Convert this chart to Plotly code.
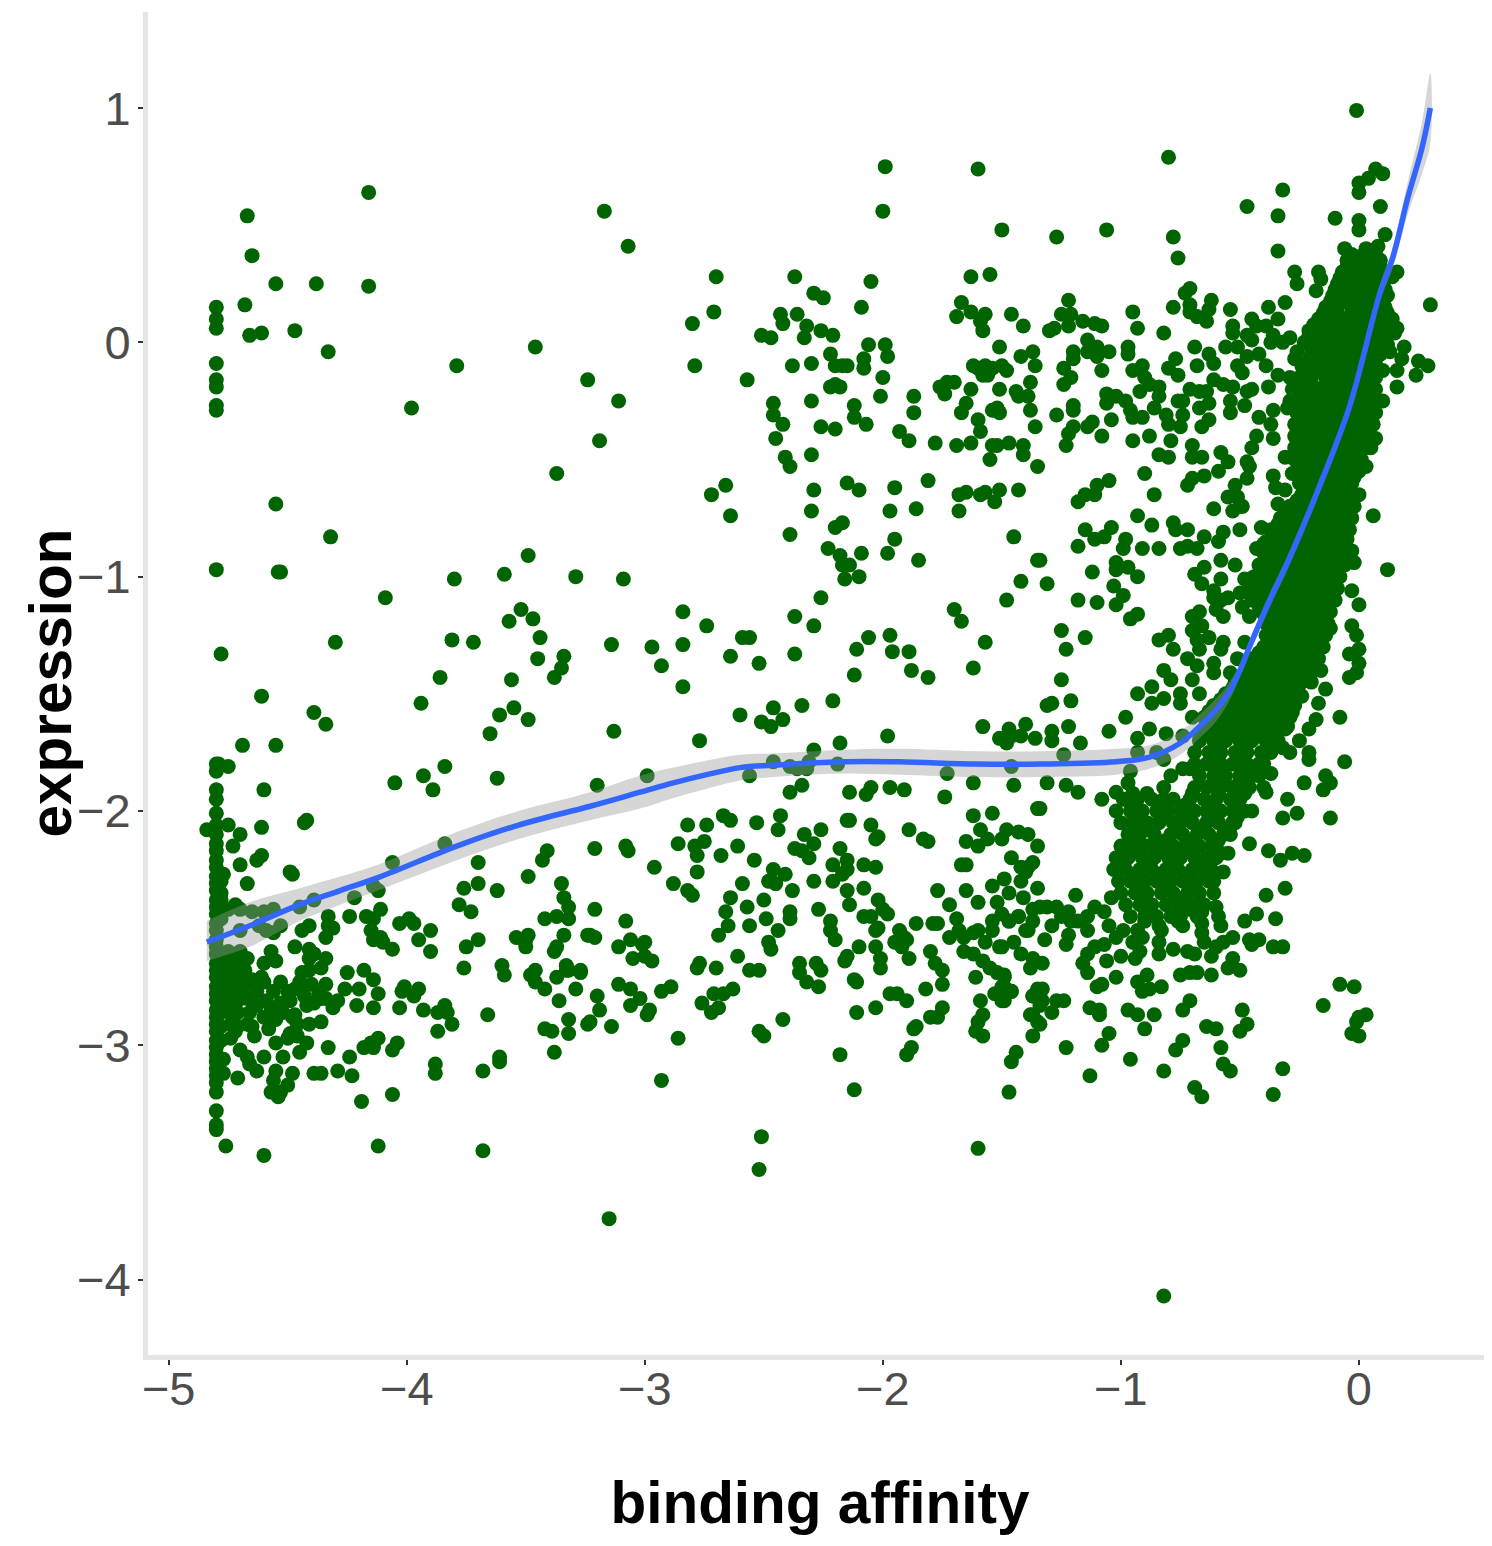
import plotly.graph_objects as go

x_ticks = [-5, -4, -3, -2, -1, 0]
y_ticks = [1, 0, -1, -2, -3, -4]

# floor column: binding affinity clipped at about -4.8
floor_x = -4.80
floor_y = [0.15, 0.10, 0.06, -0.09, -0.16, -0.19, -0.27, -0.29, -0.97, -1.80, -1.83, -1.91, -1.95, -2.01, -2.06,
           -2.10, -2.14, -2.17, -2.21, -2.24, -2.28, -2.31, -2.34, -2.38, -2.41, -2.44, -2.48, -2.51, -2.55, -2.58,
           -2.61, -2.65, -2.68, -2.71, -2.75, -2.78, -2.81, -2.85, -2.88, -2.91, -2.94, -2.98, -3.01, -3.04, -3.07,
           -3.10, -3.13, -3.16, -3.20, -3.28, -3.34, -3.36]

left_blob = [(-4.78,-2.30),(-4.78,-2.38),(-4.78,-2.46),(-4.78,-2.62),(-4.78,-2.68),(-4.78,-2.74),(-4.78,-2.80),(-4.78,-2.86),
 (-4.78,-2.92),(-4.78,-2.98),(-4.77,-3.06),(-4.77,-3.12),(-4.75,-2.60),(-4.75,-2.69),(-4.74,-2.74),(-4.74,-2.80),
 (-4.74,-2.85),(-4.74,-2.91),(-4.74,-2.97),(-4.71,-2.63),(-4.71,-2.70),(-4.71,-2.75),(-4.71,-2.81),(-4.71,-2.86),
 (-4.71,-2.92),(-4.68,-2.68),(-4.68,-2.74),(-4.67,-2.80),(-4.66,-2.86),(-4.65,-2.92),(-4.64,-2.96),(-4.60,-2.73),
 (-4.57,-2.84),(-4.58,-2.93),(-4.52,-2.86),(-4.47,-2.76),(-4.43,-2.79),(-4.40,-2.74),(-4.39,-2.82),(-4.34,-2.74)]

far_left = [(-4.67,0.54),(-4.65,0.37),(-4.55,0.25),(-4.38,0.25),(-4.16,0.64),(-4.16,0.24),(-4.68,0.16),(-4.66,0.03),
 (-4.61,0.04),(-4.47,0.05),(-4.33,-0.04),(-3.98,-0.28),(-3.79,-0.10),(-3.46,-0.02),(-3.24,-0.16),(-3.11,-0.25),
 (-3.19,-0.42),(-3.17,0.56),(-3.07,0.41),(-3.37,-0.56),(-4.55,-0.69),(-4.32,-0.83),(-4.54,-0.98),(-4.53,-0.98),
 (-4.09,-1.09),(-3.80,-1.01),(-3.59,-0.99),(-3.49,-0.91),(-3.29,-1.00),(-3.09,-1.01),(-3.52,-1.14),(-3.57,-1.19),
 (-3.47,-1.18),(-3.44,-1.26),(-3.81,-1.27),(-3.72,-1.28),(-4.30,-1.28),(-3.14,-1.29),(-4.78,-1.33),(-3.45,-1.35),
 (-3.34,-1.34),(-3.35,-1.39),(-3.38,-1.43),(-3.86,-1.43),(-3.56,-1.44),(-4.61,-1.51),(-3.94,-1.54),(-4.39,-1.58),
 (-4.34,-1.63),(-3.55,-1.56),(-3.61,-1.59),(-3.49,-1.61),(-3.65,-1.67),(-3.13,-1.66),(-4.69,-1.72),(-4.55,-1.72),
 (-3.84,-1.81),(-3.93,-1.85),(-3.89,-1.91),(-4.05,-1.88),(-3.62,-1.86),(-3.20,-1.89),(-4.60,-1.91),(-4.42,-2.04),
 (-4.43,-2.05),(-4.75,-1.81),(-4.79,-1.80),(-4.75,-2.06),(-4.61,-2.07),(-4.84,-2.08),(-4.70,-2.10),(-4.73,-2.15),
 (-4.61,-2.19),(-4.63,-2.21),(-4.70,-2.23),(-4.67,-2.31),(-4.49,-2.26),(-4.48,-2.27),(-4.77,-2.27),(-4.78,-2.35),
 (-4.72,-2.40),(-3.84,-2.14),(-4.06,-2.22),(-4.14,-2.32),(-4.12,-2.34),(-4.22,-2.37),(-4.39,-2.38),(-4.45,-2.41)]

left_cloud = [(-4.56,-2.42),(-4.60,-2.43),(-4.65,-2.43),(-4.70,-2.42),(-4.75,-2.42),(-4.70,-2.51),(-4.62,-2.49),
 (-4.53,-2.49),(-4.56,-2.52),(-4.59,-2.51),(-4.41,-2.49),(-4.44,-2.51),(-4.33,-2.45),(-4.33,-2.49),(-4.31,-2.50),
 (-4.34,-2.54),(-4.24,-2.45),(-4.17,-2.45),(-4.11,-2.42),(-4.14,-2.46),(-4.15,-2.51),(-4.14,-2.55),(-4.11,-2.54),
 (-4.10,-2.56),(-4.06,-2.59),(-4.03,-2.48),(-3.99,-2.46),(-3.97,-2.48),(-3.90,-2.51),(-3.95,-2.55),(-3.90,-2.60),
 (-3.70,-2.22),(-3.76,-2.33),(-3.70,-2.31),(-3.62,-2.34),(-3.78,-2.40),(-3.73,-2.43),(-3.49,-2.28),(-3.41,-2.17),
 (-3.43,-2.21),(-3.35,-2.31),(-3.34,-2.37),(-3.32,-2.41),(-3.37,-2.45),(-3.70,-2.55),(-3.75,-2.58),(-3.76,-2.67),
 (-3.54,-2.54),(-3.49,-2.53),(-3.50,-2.58),(-3.50,-2.55),(-3.34,-2.53),(-3.38,-2.60),(-3.24,-2.53),(-3.60,-2.66),
 (-3.59,-2.70),(-3.46,-2.68),(-3.48,-2.70),(-3.46,-2.73),(-3.42,-2.76),(-3.37,-2.71),(-3.32,-2.68),(-3.27,-2.69),
 (-3.36,-2.81),(-3.66,-2.87),(-3.32,-2.89),(-3.42,-2.93),(-3.39,-2.94),(-3.32,-2.95),(-3.24,-2.91),(-3.38,-3.03),
 (-3.61,-3.05),(-3.61,-3.07),(-3.68,-3.11),(-3.88,-3.08),(-3.88,-3.12),(-3.68,-3.45),(-4.12,-3.43),(-4.19,-3.24),
 (-4.06,-3.21),(-4.76,-3.43),(-4.60,-3.47),(-4.25,-2.69),(-4.18,-2.68),(-4.14,-2.72),(-4.26,-2.76),(-4.20,-2.76),
 (-4.12,-2.78),(-4.21,-2.83),(-4.14,-2.84),(-4.01,-2.75),(-4.02,-2.77),(-3.97,-2.79),(-3.95,-2.76),(-4.03,-2.84),
 (-3.93,-2.85),(-3.84,-2.83),(-3.87,-2.86),(-3.83,-2.86),(-3.81,-2.91),(-3.87,-2.94),(-4.47,-2.58),(-4.41,-2.59),
 (-4.39,-2.61),(-4.41,-2.63),(-4.34,-2.63),(-4.36,-2.67),(-4.41,-2.68),(-4.44,-2.69),(-4.57,-2.60),(-4.55,-2.64),
 (-4.60,-2.65),(-4.61,-2.71),(-4.67,-2.63),(-4.70,-2.60),(-4.65,-2.72),(-4.53,-2.73),(-4.45,-2.73),(-4.44,-2.76),
 (-4.50,-2.77),(-4.56,-2.77),(-4.63,-2.77),(-4.70,-2.78),(-4.74,-2.77),(-4.63,-2.83),(-4.59,-2.81),(-4.53,-2.82),
 (-4.49,-2.81),(-4.42,-2.83),(-4.36,-2.80),(-4.37,-2.78),(-4.34,-2.80),(-4.31,-2.84),(-4.29,-2.81),(-4.48,-2.88),
 (-4.46,-2.91),(-4.55,-2.89),(-4.60,-2.88),(-4.67,-2.91),(-4.72,-2.94),(-4.73,-2.88),(-4.76,-2.82),(-4.76,-2.72),
 (-4.76,-2.65),(-4.73,-2.67),(-4.73,-2.72),(-4.69,-2.76),(-4.41,-2.91),(-4.36,-2.90),(-4.47,-2.87),(-4.49,-2.95),
 (-4.50,-2.97),(-4.46,-2.96),(-4.55,-2.99),(-4.42,-2.99),(-4.45,-3.03),(-4.33,-3.01),(-4.52,-3.05),(-4.60,-3.05),
 (-4.70,-3.02),(-4.67,-3.05),(-4.66,-3.08),(-4.63,-3.11),(-4.55,-3.11),(-4.56,-3.15),(-4.48,-3.12),(-4.71,-3.14),
 (-4.50,-3.17),(-4.57,-3.20),(-4.54,-3.22),(-4.53,-3.20),(-4.39,-3.12),(-4.36,-3.12),(-4.29,-3.11),(-4.23,-3.13),
 (-4.24,-3.05),(-4.18,-3.01),(-4.15,-2.99),(-4.12,-2.97),(-4.14,-3.01),(-4.06,-3.02),(-4.04,-2.99),
 (-3.21,-2.16),(-3.08,-2.15),(-3.07,-2.17),(-3.21,-2.42),(-3.08,-2.47),(-3.23,-2.53),(-3.21,-2.54),(-3.06,-2.55),
 (-3.01,-2.57),(-3.11,-2.58),(-3.05,-2.63),(-3.27,-2.68),(-3.33,-2.68),(-3.29,-2.76),(-3.20,-2.79),(-3.11,-2.74),
 (-3.06,-2.76),(-3.19,-2.85),(-3.06,-2.83),(-3.14,-2.92),(-3.23,-2.90),(-3.15,-3.74),(-3.32,-2.46),(-3.42,-2.46),
 (-3.51,-2.55),(-3.37,-2.58),(-3.33,-2.66)]

mid_upper = [(-1.99,0.75),(-1.60,0.74),(-2.00,0.56),(-1.50,0.48),(-2.70,0.28),(-2.37,0.28),(-1.63,0.28),(-1.55,0.29),
 (-2.05,0.26),(-2.29,0.21),(-2.25,0.19),(-2.09,0.15),(-2.71,0.13),(-2.80,0.08),(-2.43,0.12),(-2.36,0.12),(-2.42,0.08),
 (-2.32,0.07),(-2.26,0.05),(-2.21,0.03),(-2.33,0.02),(-2.51,0.03),(-2.47,0.02),(-1.67,0.17),(-1.63,0.13),(-1.69,0.11),
 (-1.57,0.12),(-1.59,0.09),(-1.58,0.05),(-1.46,0.12),(-1.41,0.07),(-1.51,-0.02),(-2.06,-0.01),(-1.99,-0.01),(-1.98,-0.06),
 (-2.08,-0.07),(-2.08,-0.11),(-2.22,-0.05),(-2.20,-0.10),(-2.17,-0.10),(-2.15,-0.10),(-2.30,-0.09),(-2.38,-0.10),
 (-2.79,-0.10),(-2.57,-0.16),(-2.22,-0.19),(-2.20,-0.18),(-2.18,-0.19),(-2.00,-0.15),(-2.01,-0.23),(-1.87,-0.23),
 (-1.87,-0.30),(-1.42,-0.06),(-1.37,-0.04),(-1.62,-0.10),(-1.57,-0.10),(-1.60,-0.11),(-1.58,-0.14),(-1.56,-0.14),
 (-1.54,-0.11),(-1.50,-0.10),(-1.48,-0.12),(-1.36,-0.10),(-1.73,-0.17),(-1.76,-0.19),(-1.70,-0.17),(-1.74,-0.22),
 (-1.63,-0.20),(-1.51,-0.20),(-1.38,-0.17),(-1.44,-0.21),(-1.43,-0.23),(-1.39,-0.23),(-1.65,-0.26),(-1.67,-0.30),
 (-1.54,-0.29),(-1.52,-0.28),(-1.51,-0.30),(-1.38,-0.29),(-1.60,-0.33),(-1.59,-0.38),(-1.36,-0.36),(-2.46,-0.26),
 (-2.46,-0.31),(-2.42,-0.35),(-2.45,-0.41),(-2.30,-0.25),(-2.12,-0.27),(-2.12,-0.32),(-2.07,-0.35),(-2.26,-0.36),
 (-2.20,-0.37),(-1.93,-0.38),(-1.89,-0.42),(-1.78,-0.43),(-1.69,-0.44),(-1.63,-0.43),(-1.54,-0.44),(-1.52,-0.44),
 (-1.47,-0.43),(-1.41,-0.44),(-1.41,-0.48),(-1.55,-0.50),(-1.35,-0.53),(-2.41,-0.49),(-2.39,-0.53),(-2.30,-0.48),
 (-2.66,-0.61),(-2.72,-0.65),(-2.64,-0.74),(-2.29,-0.63),(-2.30,-0.72),(-2.15,-0.60),(-2.10,-0.63),(-1.95,-0.62),
 (-1.81,-0.59),(-1.97,-0.72),(-1.86,-0.71),(-1.68,-0.72),(-1.68,-0.65),(-1.65,-0.64),(-1.59,-0.65),(-1.57,-0.64),
 (-1.53,-0.68),(-1.51,-0.63),(-1.43,-0.63),(-2.17,-0.77),(-2.20,-0.79),(-2.39,-0.82),(-2.23,-0.88),(-2.18,-0.91),
 (-2.17,-0.95),(-2.14,-0.95),(-2.16,-1.01),(-2.10,-1.00),(-2.09,-0.90),(-1.98,-0.90),(-1.95,-0.84),(-1.85,-0.93),
 (-1.45,-0.83),(-1.35,-0.93),(-1.42,-1.02),(-1.48,-1.10),(-1.70,-1.14),(-1.67,-1.19),(-2.26,-1.09),(-2.37,-1.17),
 (-2.29,-1.21),(-2.84,-1.15),(-2.74,-1.21),(-2.59,-1.26),(-2.56,-1.26),(-2.84,-1.29),(-2.97,-1.30),(-2.93,-1.38),
 (-2.64,-1.34),(-2.52,-1.37),(-2.37,-1.33),(-2.84,-1.47),(-2.06,-1.26),(-1.97,-1.25),(-2.11,-1.31),(-1.96,-1.32),
 (-1.89,-1.32),(-1.88,-1.40),(-1.81,-1.43),(-2.12,-1.42),(-1.57,-1.28),(-1.62,-1.39),(-2.21,-1.53),(-2.34,-1.55),
 (-2.46,-1.56),(-2.60,-1.59),(-2.51,-1.62),(-2.47,-1.64),(-2.42,-1.61),(-2.77,-1.70),(-2.18,-1.71),(-1.98,-1.68),
 (-2.29,-1.74),(-1.58,-1.64),(-1.47,-1.65),(-1.51,-1.69),(-1.48,-1.71),(-1.46,-1.68),(-1.42,-1.68),(-1.40,-1.63),
 (-1.36,-1.69),(-2.46,-1.79),(-2.39,-1.81),(-2.36,-1.82),(-2.32,-1.82),(-2.31,-1.79),(-2.19,-1.80),(-2.99,-1.85),
 (-2.56,-1.85),(-1.73,-1.84),(-1.46,-1.81),(-1.62,-1.88),(-1.45,-1.89),(-2.34,-1.89),(-2.39,-1.92),(-2.14,-1.92),
 (-2.05,-1.90),(-2.07,-1.93),(-1.97,-1.90),(-1.91,-1.91),(-1.74,-1.94)]

mid_lower = [(-1.62,-2.02),(-1.54,-2.01),(-1.35,-1.99),(-2.43,-2.02),(-2.44,-2.08),(-2.67,-2.02),(-2.64,-2.04),(-2.82,-2.06),
 (-2.74,-2.06),(-2.53,-2.05),(-2.15,-2.04),(-2.14,-2.04),(-2.05,-2.06),(-1.89,-2.08),(-2.26,-2.08),(-2.33,-2.10),
 (-2.02,-2.11),(-2.03,-2.12),(-1.83,-2.12),(-1.81,-2.13),(-2.29,-2.14),(-2.37,-2.16),(-2.34,-2.17),(-2.31,-2.20),
 (-2.18,-2.16),(-2.15,-2.21),(-2.21,-2.23),(-2.15,-2.25),(-2.17,-2.27),(-2.21,-2.30),(-2.08,-2.23),(-2.03,-2.24),
 (-2.08,-2.33),(-2.15,-2.34),(-2.14,-2.40),(-2.29,-2.30),(-2.38,-2.34),(-2.27,-2.42),(-2.86,-2.14),(-2.79,-2.15),
 (-2.75,-2.13),(-2.78,-2.19),(-2.68,-2.19),(-2.61,-2.15),(-2.54,-2.21),(-2.96,-2.24),(-2.78,-2.26),(-2.88,-2.31),
 (-2.82,-2.34),(-2.80,-2.36),(-2.46,-2.25),(-2.41,-2.27),(-2.48,-2.30),(-2.45,-2.31),(-2.59,-2.31),(-2.64,-2.37),
 (-2.66,-2.43),(-2.57,-2.41),(-2.50,-2.38),(-2.39,-2.43),(-2.49,-2.46),(-1.65,-2.13),(-1.60,-2.15),(-1.59,-2.08),
 (-1.56,-2.12),(-1.50,-2.12),(-1.48,-2.08),(-1.43,-2.09),(-1.39,-2.10),(-1.35,-2.15),(-1.67,-2.23),(-1.65,-2.23),
 (-1.46,-2.20),(-1.42,-2.24),(-1.39,-2.24),(-1.37,-2.22),(-1.40,-2.26),(-1.42,-2.30),(-1.49,-2.29),(-1.54,-2.32),
 (-1.47,-2.35),(-1.41,-2.37),(-1.52,-2.39),(-1.35,-2.33),(-1.65,-2.34),(-1.77,-2.34),(-1.72,-2.40),(-1.60,-2.39),
 (-2.02,-2.38),(-2.00,-2.42),(-1.98,-2.44),(-2.39,-2.46),(-2.65,-2.49),(-2.69,-2.53),(-2.56,-2.49),(-2.44,-2.51),
 (-2.48,-2.56),(-2.47,-2.59),(-2.61,-2.62),(-2.77,-2.65),(-2.78,-2.67),(-2.70,-2.67),(-2.56,-2.68),(-2.52,-2.68),
 (-2.35,-2.65),(-2.35,-2.69),(-2.32,-2.73),(-2.27,-2.75),(-2.28,-2.65),(-2.26,-2.68),(-2.22,-2.47),(-2.22,-2.51),
 (-2.20,-2.55),(-2.10,-2.58),(-2.15,-2.62),(-2.16,-2.64),(-2.03,-2.58),(-2.01,-2.63),(-2.01,-2.67),(-2.08,-2.45),
 (-2.05,-2.45),(-2.03,-2.51),(-2.02,-2.50),(-1.89,-2.63),(-1.93,-2.51),(-1.95,-2.56),(-1.91,-2.54),(-1.92,-2.58),
 (-1.90,-2.55),(-1.86,-2.48),(-1.79,-2.48),(-1.77,-2.48),(-1.69,-2.46),(-1.72,-2.54),(-1.68,-2.51),(-1.66,-2.54),
 (-1.62,-2.52),(-1.60,-2.51),(-1.57,-2.56),(-1.54,-2.51),(-1.54,-2.47),(-1.50,-2.44),(-1.47,-2.47),(-1.43,-2.45),
 (-1.37,-2.42),(-1.40,-2.51),(-1.51,-2.58),(-1.45,-2.56),(-1.42,-2.61),(-1.66,-2.60),(-1.62,-2.61),(-1.58,-2.64),
 (-1.55,-2.67),(-1.52,-2.69),(-1.49,-2.70),(-1.38,-2.67),(-1.37,-2.63),(-1.80,-2.60),(-1.78,-2.65),(-1.75,-2.68),
 (-1.75,-2.74),(-1.82,-2.76),(-1.61,-2.71),(-1.53,-2.78),(-1.50,-2.75),(-1.48,-2.78),(-1.46,-2.77),(-1.50,-2.81),
 (-1.97,-2.78),(-1.94,-2.78),(-1.90,-2.81),(-2.03,-2.84),(-2.11,-2.86),(-2.12,-2.72),(-2.11,-2.73),(-1.75,-2.84),
 (-1.77,-2.88),(-1.80,-2.88),(-1.86,-2.92),(-1.87,-2.93),(-1.88,-3.01),(-1.90,-3.04),(-2.18,-3.04),(-2.12,-3.19),
 (-2.51,-3.39),(-2.52,-3.53),(-1.60,-3.44),(-1.47,-3.20),(-2.42,-2.89),(-2.52,-2.94),(-2.50,-2.96),(-2.86,-2.97),
 (-2.93,-3.15),(-2.93,-2.77),(-2.89,-2.75),(-3.00,-2.56),(-3.00,-2.62),(-2.97,-2.64),(-2.98,-2.85),(-2.99,-2.87),
 (-3.02,-2.80),(-2.76,-2.82),(-2.71,-2.78),(-2.67,-2.78),(-2.63,-2.76),(-2.69,-2.84),(-2.72,-2.86),(-1.59,-2.81),
 (-1.58,-2.87),(-1.60,-2.90),(-1.61,-2.94),(-1.58,-2.96),(-1.44,-3.03),(-1.46,-3.07),(-1.37,-2.96),(-1.37,-2.79),
 (-1.38,-2.87),(-1.35,-2.90),(-1.35,-2.76)]

right_upper = [(-0.01,0.99),(-0.80,0.79),(-0.32,0.65),(-0.47,0.58),(-0.34,0.54),(-0.34,0.39),(-0.78,0.45),(-0.76,0.36),
 (-1.27,0.45),(-1.06,0.48),(0.07,0.74),(0.10,0.72),(0.04,0.70),(0.00,0.68),(0.00,0.64),(0.09,0.58),(-0.10,0.53),
 (0.00,0.52),(0.00,0.48),(0.11,0.46),(-0.06,0.40),(0.03,0.40),(0.08,0.41),(0.30,0.16),(-0.27,0.30),(-0.26,0.25),
 (-0.17,0.30),(-0.16,0.27),(-0.18,0.22),(0.16,0.30),(0.14,0.28),(-0.71,0.23),(-0.73,0.21),(-0.71,0.16),(-0.71,0.13),
 (-0.68,0.11),(-0.64,0.09),(-0.62,0.18),(-0.63,0.14),(-0.78,0.15),(-0.54,0.14),(-0.38,0.15),(-0.31,0.17),(-0.34,0.10),
 (-0.45,0.10),(-0.53,0.07),(-0.53,0.04),(-0.47,0.03),(-0.43,0.07),(-0.39,0.07),(-0.36,0.03),(-0.29,0.02),(-0.32,0.00),
 (-0.37,0.00),(-1.22,0.18),(-1.25,0.12),(-1.21,0.12),(-1.22,0.07),(-1.28,0.06),(-1.30,0.05),(-1.16,0.09),(-1.11,0.08),
 (-1.08,0.07),(-0.95,0.13),(-0.93,0.06),(-0.82,0.04),(-1.14,0.01),(-1.20,-0.04),(-1.20,-0.07),(-1.14,-0.04),(-1.10,-0.02),
 (-1.10,-0.06),(-1.05,-0.04),(-0.97,-0.02),(-0.97,-0.05),(-1.24,-0.11),(-1.21,-0.15),(-1.24,-0.18),(-1.08,-0.12),
 (-0.95,-0.12),(-0.91,-0.10),(-0.90,-0.15),(-0.88,-0.18),(-0.84,-0.19),(-0.92,-0.21),(-0.84,-0.23),(-0.80,-0.11),
 (-0.77,-0.07),(-0.76,-0.14),(-0.68,-0.10),(-0.69,-0.02),(-0.63,-0.05),(-0.61,-0.09),(-0.56,-0.02),(-0.51,-0.02),
 (-0.47,-0.06),(-0.51,-0.10),(-0.49,-0.13),(-0.45,0.01),(-0.42,-0.05),(-0.39,-0.10),(-0.34,-0.14),(-0.38,-0.19),
 (-0.29,-0.15),(-0.26,-0.04),(-0.27,-0.07),(-0.71,-0.20),(-0.67,-0.21),(-0.64,-0.21),(-0.61,-0.16),(-0.57,-0.18),
 (-0.53,-0.19),(-0.47,-0.21),(-0.45,-0.20),(-1.06,-0.22),(-1.02,-0.23),(-1.06,-0.26),(-0.98,-0.25),(-0.96,-0.29),
 (-0.95,-0.32),(-0.91,-0.32),(-0.86,-0.28),(-0.81,-0.31),(-0.74,-0.31),(-0.80,-0.35),(-0.75,-0.36),(-0.76,-0.25),
 (-0.74,-0.25),(-0.67,-0.28),(-0.63,-0.26),(-0.54,-0.25),(-0.48,-0.27),(-0.54,-0.30),(-0.63,-0.33),(-0.66,-0.36),
 (-0.42,-0.32),(-0.36,-0.29),(-0.30,-0.28),(-0.26,-0.30),(-0.37,-0.35),(-0.43,-0.40),(-0.36,-0.41),(-0.45,-0.45),
 (-1.27,-0.31),(-1.20,-0.27),(-1.20,-0.29),(-1.04,-0.33),(-1.12,-0.34),(-1.14,-0.36),(-1.20,-0.36),(-1.22,-0.39),
 (-1.23,-0.44),(-1.08,-0.40),(-0.95,-0.42),(-0.88,-0.40),(-0.79,-0.42),(-0.70,-0.44),(-0.84,-0.48),(-0.80,-0.49),
 (-0.70,-0.49),(-0.66,-0.49),(-0.58,-0.47),(-0.55,-0.51),(-0.59,-0.55),(-0.47,-0.51),(-0.46,-0.53),(-0.47,-0.58),
 (-0.31,-0.49),(-0.90,-0.56),(-0.65,-0.57),(-0.70,-0.58),(-0.72,-0.61),(-0.52,-0.61),(-0.36,-0.57),(-0.35,-0.62),
 (-0.31,-0.63),(-0.28,-0.56),(-1.05,-0.59),(-1.10,-0.61),(-1.11,-0.65),(-1.15,-0.65),(-1.18,-0.68),(-0.86,-0.65),
 (-0.55,-0.66),(-0.51,-0.66),(-0.50,-0.70),(-0.61,-0.71),(-0.34,-0.69),(0.06,-0.74),(0.19,-0.02),(0.18,-0.07),
 (0.13,-0.04),(0.16,-0.12),(0.24,-0.14),(0.25,-0.08),(0.29,-0.10),(0.16,-0.19),(0.10,-0.25),(0.16,0.06),(0.14,0.10),
 (0.15,0.04),(0.10,-0.12),(0.12,-0.01),(0.07,-0.41),(0.05,-0.45),(0.03,-0.53),(0.00,-0.65)]

right_middle = [(-1.34,-0.93),(-1.31,-1.03),(-1.18,-0.87),(-1.15,-0.80),(-1.11,-0.84),(-1.07,-0.83),(-1.04,-0.79),
 (-0.93,-0.74),(-0.87,-0.78),(-0.98,-0.84),(-0.99,-0.88),(-0.91,-0.88),(-0.84,-0.88),(-0.78,-0.77),(-0.77,-0.80),
 (-0.72,-0.80),(-0.75,-0.88),(-0.72,-0.87),(-0.68,-0.88),(-0.65,-0.83),(-0.59,-0.85),(-0.57,-0.81),(-0.50,-0.80),
 (-0.53,-0.72),(-0.49,-0.70),(-1.12,-0.98),(-1.02,-0.94),(-1.02,-0.97),(-0.97,-0.96),(-0.93,-1.00),(-1.03,-1.04),
 (-0.99,-1.08),(-1.02,-1.12),(-1.18,-1.10),(-1.10,-1.11),(-0.96,-1.18),(-0.93,-1.16),(-1.25,-1.23),(-1.15,-1.26),
 (-1.23,-1.31),(-1.25,-1.44),(-1.21,-1.53),(-1.29,-1.54),(-1.31,-1.55),(-1.22,-1.64),(-1.29,-1.66),(-1.29,-1.70),
 (-1.17,-1.71),(-1.05,-1.66),(-0.98,-1.60),(-1.24,-1.76),(-1.31,-1.88),(-1.23,-1.89),(-1.18,-1.92),(-1.08,-1.95),
 (-1.34,-1.99),(-0.93,-1.50),(-0.87,-1.47),(-0.82,-1.40),(-0.79,-1.44),(-0.87,-1.54),(-0.82,-1.52),(-0.75,-1.50),
 (-0.75,-1.54),(-0.84,-1.27),(-0.80,-1.25),(-0.78,-1.31),(-0.70,-1.17),(-0.67,-1.15),(-0.70,-1.23),(-0.66,-1.21),
 (-0.63,-1.26),(-0.67,-1.31),(-0.68,-1.27),(-0.72,-1.35),(-0.68,-1.38),(-0.61,-1.37),(-0.70,-1.44),(-0.67,-1.50),
 (-0.61,-1.41),(-0.54,-1.41),(-0.57,-1.28),(-0.58,-1.31),(-0.48,-1.28),(-0.51,-1.35),(-0.69,-0.99),(-0.66,-1.03),
 (-0.61,-1.06),(-0.58,-1.10),(-0.57,-1.17),(-0.60,-1.14),(-0.65,-0.96),(-0.58,-0.93),(-0.52,-0.95),(-0.58,-1.01),
 (-0.55,-1.09),(-0.61,-1.09),(-0.48,-1.01),(-0.50,-1.07),(-0.45,-1.06),(-0.49,-1.13),(-0.46,-1.17),(-0.41,-0.79),
 (-0.36,-0.80),(-0.32,-0.77),(-0.43,-0.88),(-0.40,-0.86),(-0.37,-0.91),(-0.33,-0.93),(0.12,-0.97),(0.00,-1.12),
 (-0.03,-1.06),(-0.02,-0.94),(-0.03,-0.89),(-0.05,-0.84),(-0.12,-1.22),(-0.03,-1.21),(-0.01,-1.25),(0.00,-1.31),
 (-0.04,-1.33),(0.00,-1.37),(-0.01,-1.41),(-0.04,-1.43),(-0.17,-1.54),(-0.08,-1.60),(-0.18,-1.61),(-0.21,-1.65),
 (-0.25,-1.70),(-0.21,-1.75),(-0.21,-1.78),(-0.06,-1.79),(-0.23,-1.88),(-0.14,-1.85),(-0.12,-1.88),(-0.15,-1.91),
 (-0.30,-1.95),(-0.26,-2.01),(-0.32,-2.03),(-0.12,-2.03),(-0.37,-1.84),(-0.29,-1.75),(-0.32,-1.73),(-0.40,-1.90),
 (-0.39,-1.92),(-0.45,-2.00),(-0.28,-1.51),(-0.24,-1.51),(-0.14,-1.48),(-0.28,-1.58),(-0.30,-1.64),(-0.46,-2.14),
 (-0.38,-2.17),(-0.33,-2.21),(-0.28,-2.18),(-0.23,-2.19),(-0.57,-2.26),(-0.58,-2.18),(-0.55,-2.18),(-0.96,-1.83),
 (-0.97,-1.88),(-1.02,-1.92),(-0.99,-1.95),(-0.93,-1.75),(-0.85,-1.75),(-0.82,-1.78),(-0.74,-1.68),(-0.88,-1.65),
 (-0.81,-1.67),(-0.93,-1.69),(-0.70,-1.60),(-0.79,-1.85),(-0.82,-1.90),(-0.74,-1.82),(-0.71,-1.82),(-0.67,-1.67),
 (-0.61,-1.60)]

right_lower = [(-1.19,-2.36),(-1.04,-2.37),(-1.32,-2.55),(-1.23,-2.57),(-1.22,-2.53),(-1.34,-2.41),(-1.31,-2.41),
 (-1.27,-2.41),(-1.22,-2.43),(-1.21,-2.47),(-1.14,-2.45),(-1.11,-2.41),(-1.07,-2.43),(-1.43,-2.45),(-1.47,-2.47),
 (-1.39,-2.51),(-1.37,-2.47),(-1.29,-2.49),(-1.25,-2.45),(-1.18,-2.47),(-1.14,-2.51),(-1.50,-2.58),(-1.33,-2.65),
 (-1.49,-2.71),(-1.49,-2.75),(-1.46,-2.77),(-1.49,-2.81),(-1.33,-2.76),(-1.37,-2.79),(-1.33,-2.81),(-1.27,-2.81),
 (-1.24,-2.81),(-1.29,-2.86),(-1.37,-2.87),(-1.34,-2.83),(-1.34,-2.91),(-1.23,-3.01),(-1.05,-2.95),(-1.08,-3.00),
 (-1.13,-2.84),(-1.09,-2.85),(-1.09,-2.87),(-0.97,-2.85),(-0.93,-2.87),(-0.86,-2.87),(-0.90,-2.93),(-0.96,-3.06),
 (-1.13,-3.13),(-0.82,-3.11),(-0.74,-2.98),(-0.77,-3.02),(-0.71,-2.81),(-0.74,-2.85),(-0.64,-2.92),(-0.60,-2.93),
 (-0.58,-3.01),(-0.57,-3.08),(-0.54,-3.11),(-0.69,-3.18),(-0.66,-3.22),(-0.49,-2.85),(-0.47,-2.91),(-0.50,-2.94),
 (-0.32,-3.10),(-0.36,-3.21),(-0.15,-2.83),(-0.08,-2.74),(-0.02,-2.75),(0.03,-2.87),(0.00,-2.88),(-0.01,-2.90),
 (-0.03,-2.95),(0.00,-2.96),(-0.82,-4.07),(-0.31,-2.33),(-0.39,-2.36),(-0.43,-2.44),(-0.48,-2.47),(-0.35,-2.46),
 (-0.46,-2.55),(-0.42,-2.55),(-0.45,-2.57),(-0.36,-2.58),(-0.32,-2.58),(-0.60,-2.41),(-0.59,-2.45),(-0.58,-2.49),
 (-0.53,-2.54),(-0.57,-2.56),(-0.60,-2.58),(-0.66,-2.43),(-0.66,-2.48),(-0.66,-2.52),(-0.65,-2.56),(-0.62,-2.62),
 (-0.53,-2.63),(-0.55,-2.67),(-0.50,-2.68),(-0.62,-2.70),(-0.72,-2.60),(-0.69,-2.61),(-0.78,-2.59),(-0.84,-2.56),
 (-0.84,-2.61),(-0.75,-2.70),(-0.71,-2.69),(-0.68,-2.69),(-0.89,-2.70),(-0.93,-2.73),(-0.91,-2.77),(-0.88,-2.76),
 (-0.83,-2.75),(-1.02,-2.71),(-1.08,-2.74),(-1.10,-2.75),(-1.14,-2.69),(-1.16,-2.65),(-1.14,-2.61),(-1.11,-2.58),
 (-1.07,-2.57),(-1.06,-2.64),(-1.00,-2.62),(-0.94,-2.63),(-0.92,-2.60),(-0.95,-2.56),(-1.05,-2.49),(-1.02,-2.54),
 (-0.99,-2.51),(-0.93,-2.51),(-0.90,-2.47),(-0.91,-2.54),(-0.84,-2.49),(-0.76,-2.47),(-0.74,-2.49),(-0.83,-2.51),
 (-0.71,-2.42),(-0.67,-2.39)]

# the solid part of the cloud, read row by row: expression value, then the affinities in that row
dense_rows = [
 (0.35,[-0.05,0.0,0.05,0.09]),(0.30,[-0.07,-0.02,0.03,0.08]),(0.25,[-0.09,-0.04,0.01,0.06,0.10]),
 (0.20,[-0.11,-0.06,-0.01,0.04,0.09,0.12]),(0.15,[-0.14,-0.09,-0.03,0.02,0.07,0.11]),
 (0.10,[-0.17,-0.12,-0.06,-0.01,0.05,0.10,0.13]),(0.05,[-0.21,-0.16,-0.10,-0.05,0.0,0.06,0.11]),
 (0.0,[-0.23,-0.18,-0.12,-0.07,-0.02,0.03,0.08,0.11]),(-0.05,[-0.20,-0.15,-0.10,-0.04,0.01,0.06,0.09]),
 (-0.10,[-0.24,-0.18,-0.12,-0.07,-0.02,0.03,0.07]),(-0.15,[-0.25,-0.20,-0.14,-0.09,-0.03,0.02,0.07]),
 (-0.20,[-0.28,-0.22,-0.17,-0.11,-0.06,-0.01,0.05,0.07]),(-0.25,[-0.29,-0.24,-0.18,-0.13,-0.07,-0.02,0.03,0.07]),
 (-0.30,[-0.26,-0.20,-0.15,-0.09,-0.04,0.02,0.07]),(-0.35,[-0.27,-0.22,-0.16,-0.11,-0.05,0.0,0.06]),
 (-0.40,[-0.27,-0.21,-0.16,-0.10,-0.05,0.01,0.05]),(-0.45,[-0.27,-0.22,-0.16,-0.11,-0.06,-0.01,0.03]),
 (-0.50,[-0.27,-0.21,-0.16,-0.10,-0.05,0.01]),(-0.55,[-0.26,-0.21,-0.15,-0.10,-0.04,0.0]),
 (-0.60,[-0.25,-0.19,-0.14,-0.08,-0.03]),(-0.65,[-0.24,-0.19,-0.13,-0.08,-0.02]),
 (-0.70,[-0.29,-0.23,-0.18,-0.12,-0.07,-0.02]),(-0.75,[-0.33,-0.27,-0.22,-0.16,-0.11,-0.05,-0.03]),
 (-0.80,[-0.37,-0.31,-0.26,-0.20,-0.15,-0.09,-0.04]),(-0.85,[-0.39,-0.34,-0.28,-0.23,-0.17,-0.12,-0.06]),
 (-0.90,[-0.40,-0.35,-0.29,-0.24,-0.18,-0.13,-0.07,-0.06]),(-0.95,[-0.42,-0.36,-0.31,-0.25,-0.20,-0.14,-0.09,-0.06]),
 (-1.00,[-0.44,-0.38,-0.33,-0.27,-0.22,-0.16,-0.11,-0.08]),(-1.05,[-0.46,-0.40,-0.35,-0.29,-0.24,-0.18,-0.13,-0.09]),
 (-1.10,[-0.45,-0.39,-0.34,-0.28,-0.23,-0.17,-0.12,-0.10]),(-1.15,[-0.41,-0.36,-0.30,-0.25,-0.19,-0.14,-0.12]),
 (-1.20,[-0.39,-0.33,-0.28,-0.22,-0.17,-0.13]),(-1.25,[-0.39,-0.34,-0.28,-0.23,-0.18,-0.14]),
 (-1.30,[-0.40,-0.35,-0.29,-0.24,-0.18,-0.15]),(-1.35,[-0.45,-0.39,-0.34,-0.28,-0.23,-0.17]),
 (-1.40,[-0.47,-0.41,-0.36,-0.30,-0.25,-0.19,-0.16]),(-1.45,[-0.52,-0.46,-0.41,-0.35,-0.30,-0.24,-0.20]),
 (-1.50,[-0.56,-0.50,-0.45,-0.39,-0.34,-0.28,-0.25]),(-1.55,[-0.61,-0.55,-0.50,-0.44,-0.39,-0.33,-0.27]),
 (-1.60,[-0.65,-0.59,-0.54,-0.48,-0.43,-0.37,-0.32,-0.29]),(-1.65,[-0.64,-0.59,-0.53,-0.48,-0.42,-0.37,-0.31]),
 (-1.70,[-0.67,-0.61,-0.56,-0.50,-0.45,-0.39,-0.34]),(-1.75,[-0.69,-0.63,-0.58,-0.52,-0.47,-0.41,-0.37]),
 (-1.80,[-0.69,-0.64,-0.58,-0.53,-0.47,-0.42,-0.40]),(-1.85,[-0.67,-0.61,-0.56,-0.50,-0.45,-0.42]),
 (-1.90,[-0.69,-0.64,-0.58,-0.53,-0.47,-0.46]),(-1.95,[-0.98,-0.93,-0.87,-0.82,-0.78,-0.71,-0.65,-0.60,-0.54,-0.50]),
 (-2.00,[-1.02,-0.96,-0.91,-0.85,-0.80,-0.75,-0.69,-0.64,-0.58,-0.53,-0.48]),
 (-2.05,[-1.00,-0.95,-0.89,-0.84,-0.78,-0.75,-0.70,-0.64,-0.59,-0.53,-0.52]),
 (-2.10,[-0.97,-0.92,-0.86,-0.79,-0.74,-0.68,-0.63,-0.57,-0.54]),
 (-2.15,[-1.00,-0.95,-0.89,-0.84,-0.78,-0.73,-0.67,-0.62]),
 (-2.20,[-1.02,-0.97,-0.91,-0.86,-0.80,-0.75,-0.69,-0.64,-0.60]),
 (-2.25,[-1.03,-0.98,-0.92,-0.87,-0.81,-0.76,-0.70,-0.65,-0.62]),
 (-2.30,[-1.01,-0.96,-0.90,-0.85,-0.79,-0.74,-0.68,-0.63,-0.61]),
 (-2.35,[-1.00,-0.94,-0.89,-0.83,-0.78,-0.72,-0.67,-0.61]),
 (-2.40,[-0.98,-0.92,-0.87,-0.81,-0.76,-0.70,-0.65]),
 (-2.45,[-0.96,-0.90,-0.85,-0.79,-0.75,-0.68]),
]

dense_rows_between = [
 (0.375,[-0.03,0.02,0.07]),(0.325,[-0.05,0.0,0.05,0.09]),(0.275,[-0.08,-0.03,0.02,0.07,0.10]),
 (0.225,[-0.10,-0.04,0.02,0.07,0.11]),(0.175,[-0.12,-0.07,-0.01,0.04,0.10]),(0.125,[-0.15,-0.09,-0.03,0.03,0.08,0.12]),
 (0.075,[-0.19,-0.14,-0.08,-0.03,0.03,0.08,0.12]),(0.025,[-0.21,-0.15,-0.09,-0.04,0.02,0.07,0.10]),
 (-0.025,[-0.20,-0.15,-0.09,-0.04,0.01,0.05,0.09]),(-0.075,[-0.21,-0.15,-0.09,-0.04,0.02,0.07]),
 (-0.125,[-0.23,-0.17,-0.11,-0.06,0.0,0.05]),(-0.175,[-0.26,-0.20,-0.14,-0.08,-0.03,0.03]),
 (-0.225,[-0.26,-0.20,-0.15,-0.10,-0.04,0.01,0.05]),(-0.275,[-0.27,-0.22,-0.16,-0.11,-0.05,0.0,0.05]),
 (-0.325,[-0.24,-0.18,-0.12,-0.07,-0.01,0.04]),(-0.375,[-0.25,-0.19,-0.13,-0.08,-0.02,0.03]),
 (-0.425,[-0.24,-0.19,-0.13,-0.08,-0.02,0.03]),(-0.475,[-0.24,-0.19,-0.13,-0.08,-0.03,0.0]),
 (-0.525,[-0.24,-0.18,-0.13,-0.07,-0.02]),(-0.575,[-0.23,-0.18,-0.12,-0.07,-0.02]),
 (-0.625,[-0.22,-0.16,-0.11,-0.05]),(-0.675,[-0.26,-0.21,-0.15,-0.10,-0.05]),
 (-0.725,[-0.30,-0.25,-0.20,-0.14,-0.09,-0.04]),(-0.775,[-0.34,-0.29,-0.24,-0.18,-0.13,-0.07]),
 (-0.825,[-0.36,-0.31,-0.25,-0.20,-0.14,-0.09]),(-0.875,[-0.37,-0.32,-0.26,-0.21,-0.15,-0.10]),
 (-0.925,[-0.38,-0.33,-0.27,-0.22,-0.16,-0.11]),(-0.975,[-0.41,-0.35,-0.30,-0.24,-0.19,-0.13]),
 (-1.025,[-0.43,-0.37,-0.32,-0.26,-0.21,-0.15,-0.11]),(-1.075,[-0.42,-0.37,-0.31,-0.26,-0.20,-0.15]),
 (-1.125,[-0.42,-0.37,-0.31,-0.26,-0.20,-0.15]),(-1.175,[-0.38,-0.33,-0.27,-0.22,-0.16]),
 (-1.225,[-0.36,-0.31,-0.25,-0.20,-0.15]),(-1.275,[-0.37,-0.31,-0.26,-0.20,-0.16]),
 (-1.325,[-0.42,-0.37,-0.31,-0.26,-0.20]),(-1.375,[-0.44,-0.37,-0.32,-0.26,-0.21]),
 (-1.425,[-0.49,-0.44,-0.38,-0.33,-0.27,-0.22]),(-1.475,[-0.53,-0.48,-0.43,-0.37,-0.32,-0.26]),
 (-1.525,[-0.58,-0.53,-0.47,-0.42,-0.36,-0.30]),(-1.575,[-0.63,-0.57,-0.52,-0.46,-0.41,-0.35,-0.30]),
 (-1.625,[-0.62,-0.56,-0.51,-0.45,-0.40,-0.34]),(-1.675,[-0.64,-0.58,-0.53,-0.47,-0.42,-0.36]),
 (-1.725,[-0.60,-0.49,-0.38]),(-1.775,[-0.61,-0.50]),
 (-1.825,[-0.60,-0.49]),(-1.875,[-0.61,-0.50]),
 (-1.925,[-0.95,-0.89,-0.70,-0.59,-0.48]),(-1.975,[-0.94,-0.84,-0.73,-0.62,-0.51]),
 (-2.025,[-0.93,-0.82,-0.72,-0.61,-0.51]),(-2.075,[-0.91,-0.76,-0.65,-0.55]),
 (-2.125,[-0.93,-0.81,-0.70,-0.59]),(-2.175,[-0.93,-0.82,-0.71]),
 (-2.225,[-1.00,-0.89,-0.78,-0.67]),(-2.275,[-0.95,-0.84,-0.73]),
 (-2.325,[-0.93,-0.82,-0.71]),(-2.375,[-0.91,-0.75]),
]

smooth_x = [-4.84,-4.66,-4.45,-4.28,-4.11,-3.79,-3.53,-3.23,-3.02,-2.88,-2.74,-2.60,-2.46,-2.18,-1.93,-1.61,-1.34,-1.02,
            -0.88,-0.75,-0.66,-0.61,-0.55,-0.50,-0.46,-0.37,-0.30,-0.18,-0.04,0.088,0.143,0.206,0.265,0.30]
smooth_y = [-2.56,-2.49,-2.40,-2.34,-2.28,-2.15,-2.06,-1.98,-1.92,-1.88,-1.845,-1.815,-1.805,-1.79,-1.79,-1.80,-1.80,-1.79,
            -1.77,-1.71,-1.63,-1.58,-1.50,-1.40,-1.30,-1.09,-0.94,-0.65,-0.275,0.21,0.365,0.62,0.83,1.00]
smooth_hi = [-2.47,-2.39,-2.33,-2.28,-2.225,-2.09,-2.00,-1.92,-1.85,-1.815,-1.785,-1.76,-1.755,-1.74,-1.735,-1.745,-1.745,-1.735,
             -1.72,-1.66,-1.58,-1.53,-1.46,-1.37,-1.27,-1.06,-0.91,-0.62,-0.245,0.245,0.41,0.69,0.94,1.15]
smooth_lo = [-2.64,-2.58,-2.47,-2.40,-2.335,-2.21,-2.12,-2.04,-1.99,-1.945,-1.905,-1.87,-1.855,-1.84,-1.845,-1.855,-1.855,-1.845,
             -1.82,-1.76,-1.68,-1.63,-1.54,-1.43,-1.33,-1.12,-0.97,-0.68,-0.305,0.175,0.32,0.55,0.72,0.85]

pts = left_blob + far_left + left_cloud + mid_upper + mid_lower + right_upper + right_middle + right_lower
points_x = [floor_x] * len(floor_y) + [p[0] for p in pts]
points_y = list(floor_y) + [p[1] for p in pts]
for row_y, row_x in dense_rows + dense_rows_between:
    points_x += row_x
    points_y += [row_y] * len(row_x)

fig = go.Figure()
fig.add_trace(go.Scatter(x=points_x, y=points_y, mode="markers",
                         marker=dict(size=15, color="#006400", line=dict(width=0))))
fig.add_trace(go.Scatter(x=smooth_x + smooth_x[::-1], y=smooth_hi + smooth_lo[::-1], mode="lines",
                         line=dict(width=0, shape="spline"), fill="toself", fillcolor="rgba(153,153,153,0.4)",
                         hoverinfo="skip"))
fig.add_trace(go.Scatter(x=smooth_x, y=smooth_y, mode="lines", line=dict(color="#3366FF", width=5.5, shape="spline")))

tick_font = dict(family="Liberation Sans", size=47, color="#4D4D4D")
title_font = dict(family="Liberation Sans", size=58.5, color="#000000")
axis_common = dict(showgrid=False, zeroline=False, showline=True, linecolor="#E5E5E5", linewidth=5,
                   ticks="outside", ticklen=5, tickwidth=2, tickcolor="#333333", tickfont=tick_font)
fig.update_layout(
    width=1484, height=1538, autosize=False, showlegend=False,
    paper_bgcolor="white", plot_bgcolor="white",
    margin=dict(l=140.3, r=0, t=4, b=190.5),
    xaxis=dict(range=[-5.087, 0.559], tickvals=x_ticks, ticklabelstandoff=-16,
               title=dict(text="<b>binding affinity</b>", font=title_font, standoff=69), **axis_common),
    yaxis=dict(range=[-4.322, 1.41], tickvals=y_ticks, ticklabelstandoff=-2, **axis_common),
    annotations=[dict(text="<b>expression</b>", font=title_font, textangle=-90, showarrow=False,
                      xref="paper", yref="paper", x=0, y=0.5, xanchor="center", yanchor="middle", xshift=-98)],
)
fig.write_html("out.html")
